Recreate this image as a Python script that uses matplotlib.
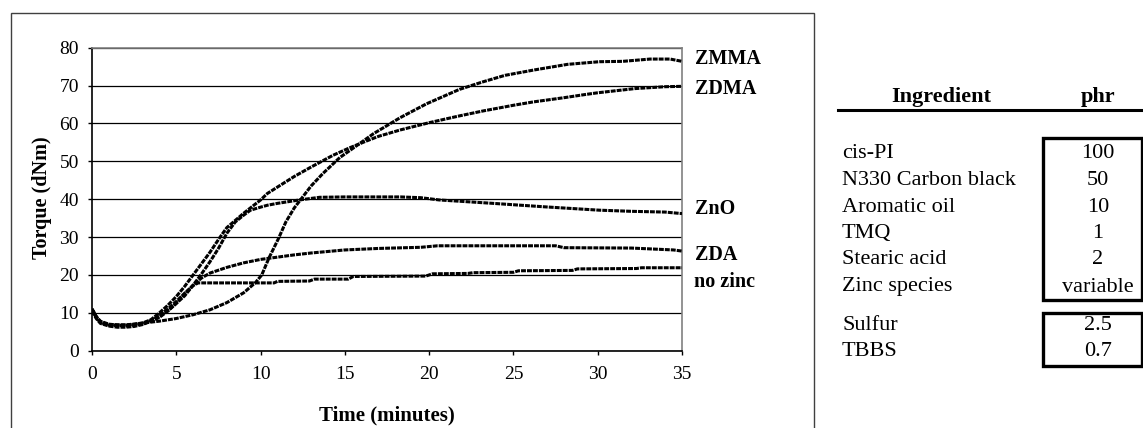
import matplotlib
matplotlib.use("Agg")
import matplotlib.pyplot as plt
from matplotlib.patches import Rectangle
from matplotlib.lines import Line2D

plt.rcParams['font.family'] = ['Liberation Serif', 'DejaVu Serif']

# ---------------- data ----------------
zmma_t = [0, 0.25, 0.5, 1, 2, 3, 4, 5, 6, 7, 8, 9, 9.7, 10.07, 10.5, 11.05, 11.5, 12, 12.5,
          13, 13.7, 14.7, 15.5, 16.7, 18.27, 19.85, 21.8, 23.2, 24.5, 26.2, 28.2, 30.1,
          31.5, 33.1, 34.3, 35]
zmma_v = [10.8, 8.8, 7.5, 6.8, 6.8, 7.3, 7.8, 8.5, 9.5, 10.8, 12.7, 15.3, 18, 20, 24.5, 29.5,
          34, 37.7, 40.6, 43.5, 46.8, 51, 53.5, 57.3, 61.5, 65.2, 69, 71.0, 72.7, 74.1, 75.6,
          76.3, 76.4, 77.0, 77.0, 76.4]

zdma_t = [0, 0.25, 0.5, 1, 1.5, 2, 2.5, 3, 3.5, 4, 4.5, 5, 5.5, 6, 6.5, 7, 7.6, 8, 9, 10,
          10.4, 11, 12, 13, 14.3, 15.3, 16.3, 17, 18.3, 20, 21.8, 23.2, 25, 26.2, 28, 29.2,
          30, 32.2, 34, 35]
zdma_v = [11, 9, 7.8, 7, 6.8, 6.8, 6.9, 7.3, 8.2, 10, 12, 14.3, 17, 20, 23, 26, 30, 32.5,
          36.3, 39.8, 41.5, 43.2, 46, 48.5, 51.6, 53.6, 55.4, 56.6, 58.3, 60.2, 62, 63.3,
          64.8, 65.7, 66.8, 67.6, 68.1, 69.2, 69.7, 69.8]

zno_t = [0, 0.25, 0.5, 1, 1.5, 2, 2.5, 3, 3.5, 4, 4.5, 5, 5.5, 6, 6.5, 7, 7.5, 8, 8.5, 9,
         9.4, 10, 10.4, 11, 12.3, 13.5, 15, 18.3, 19.5, 20.6, 23.8, 26.8, 30.1, 32, 34, 35]
zno_v = [10.5, 8.5, 7.2, 6.5, 6.2, 6.2, 6.4, 6.9, 7.8, 9, 10.5, 12.5, 14.5, 17.3, 20.3, 23.5,
         27, 31, 34, 35.8, 37.1, 37.9, 38.4, 38.9, 39.8, 40.5, 40.6, 40.6, 40.4, 39.8, 38.9,
         38.0, 37.1, 36.8, 36.6, 36.2]

zda_t = [0, 0.25, 0.5, 1, 2, 3, 3.5, 4, 4.5, 5, 5.5, 6, 6.5, 7, 8, 9, 10, 11, 12, 13, 14,
         15, 17, 19.5, 20.5, 27.5, 28, 32, 33, 34.5, 35]
zda_v = [11, 9, 7.5, 6.8, 6.5, 7.1, 7.8, 8.8, 10.5, 12.5, 15, 17.3, 19.2, 20.5, 22, 23.2,
         24.1, 24.7, 25.3, 25.8, 26.2, 26.6, 27, 27.3, 27.7, 27.7, 27.2, 27.1, 26.9, 26.6,
         26.3]

nozinc_t = [0, 0.25, 0.5, 1, 2, 3, 3.5, 4, 4.5, 5, 5.5, 6, 6.3, 10.8, 11, 12.9, 13.2, 15.2,
            15.5, 19.8, 20.2, 22.3, 22.6, 25, 25.3, 28.5, 28.8, 32.3, 32.6, 35]
nozinc_v = [11, 9, 7.5, 6.8, 6.6, 7.2, 8, 9.3, 11, 13, 15.2, 17.2, 17.9, 17.9, 18.3, 18.4,
            18.9, 18.9, 19.6, 19.7, 20.3, 20.4, 20.6, 20.7, 21.1, 21.2, 21.6, 21.7, 21.9,
            21.9]

series_names = ["ZMMA", "ZDMA", "ZnO", "ZDA", "no zinc"]
label_y = [76.9, 69.2, 37.3, 25.2, 18.2]

x_ticks = [0, 5, 10, 15, 20, 25, 30, 35]
y_ticks = [0, 10, 20, 30, 40, 50, 60, 70, 80]

ingredients = ["cis-PI", "N330 Carbon black", "Aromatic oil", "TMQ", "Stearic acid",
               "Zinc species", "Sulfur", "TBBS"]
phr = ["100", "50", "10", "1", "2", "variable", "2.5", "0.7"]

# ---------------- figure ----------------
W, H = 1143, 428
fig = plt.figure(figsize=(W / 100, H / 100), dpi=100)


def fx(px):
    return px / W


def fy(py):
    return 1 - py / H


ax = fig.add_axes([fx(92), fy(350.7), fx(682) - fx(92), fy(47.7) - fy(350.7)])

curves = [(zmma_t, zmma_v), (zdma_t, zdma_v), (zno_t, zno_v), (zda_t, zda_v),
          (nozinc_t, nozinc_v)]
for (t, v) in curves:
    ax.plot(t, v, color='black', lw=2.2, ls=(0, (1.6, 0.35)), solid_capstyle='butt',
            zorder=3)

ax.set_xlim(0, 35)
ax.set_ylim(0, 80)
ax.set_xticks(x_ticks)
ax.set_yticks(y_ticks)
ax.tick_params(direction='out', length=3, width=1, labelsize=14)
ax.tick_params(axis='y', pad=6.5)
ax.tick_params(axis='x', pad=8)
ax.yaxis.grid(True, color='black', lw=0.9)
ax.set_axisbelow(True)
for s in ['top', 'right']:
    ax.spines[s].set_color('#808080')
    ax.spines[s].set_linewidth(1.2)
for s in ['left', 'bottom']:
    ax.spines[s].set_color('black')
    ax.spines[s].set_linewidth(1.2)

fig.text(fx(387), fy(415), "Time (minutes)", fontsize=15, fontweight='bold',
         ha='center', va='center')
fig.text(fx(42), fy(198), "Torque (dNm)", fontsize=14.5, fontweight='bold',
         ha='center', va='center', rotation=90)

for name, yv in zip(series_names, label_y):
    ax.annotate(name, xy=(35, yv), xycoords='data', xytext=(9, 0),
                textcoords='offset points', fontsize=14.5, fontweight='bold',
                va='center', ha='left', annotation_clip=False)

# outer chart frame
fig.add_artist(Rectangle((fx(11), fy(440)), fx(814) - fx(11), fy(13.3) - fy(440),
                         transform=fig.transFigure, fill=False, edgecolor='#404040',
                         lw=1.0))

# ---------------- table ----------------
fig.text(fx(941), fy(97), "Ingredient", fontsize=16, fontweight='bold', ha='center',
         va='center')
fig.text(fx(1098), fy(97), "phr", fontsize=16, fontweight='bold', ha='center',
         va='center')
fig.add_artist(Line2D([fx(838), fx(1143)], [fy(109.5), fy(109.5)],
                      transform=fig.transFigure, color='black', lw=2.2))

row_y = [154, 180.5, 207, 233.5, 260, 287, 325.5, 352]
for name, val, yy in zip(ingredients, phr, row_y):
    fig.text(fx(842), fy(yy), name, fontsize=16, ha='left', va='center')
    fig.text(fx(1098), fy(yy), val, fontsize=16, ha='center', va='center')

for (top, bot) in [(138, 299.5), (312.5, 366)]:
    fig.add_artist(Rectangle((fx(1042.5), fy(bot)), fx(1141.5) - fx(1042.5),
                             fy(top) - fy(bot), transform=fig.transFigure, fill=False,
                             edgecolor='black', lw=2.4))

fig.savefig("out.png", dpi=100)
